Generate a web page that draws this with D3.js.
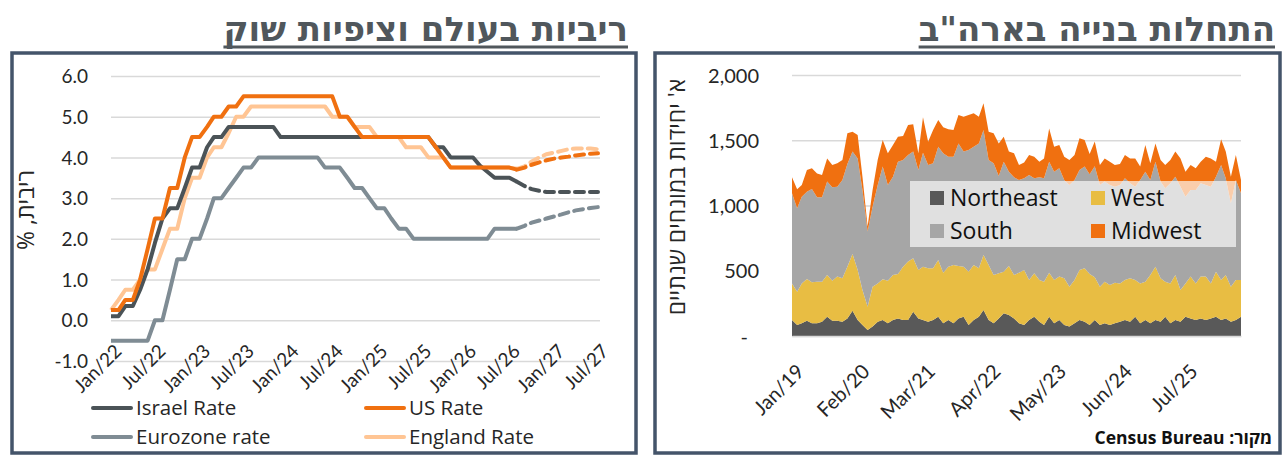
<!DOCTYPE html>
<html>
<head>
<meta charset="utf-8">
<script src="https://cdn.jsdelivr.net/npm/d3@7"></script>
<style>
  body { margin: 0; background: #fff; }
  svg { display: block; }
  text { font-family: Lato, "Open Sans", sans-serif; }
  .heb { font-family: "Open Sans", "DejaVu Sans", sans-serif; }
  .lbl { font-family: "Open Sans", Lato, sans-serif; }
</style>
</head>
<body>
<svg id="chart" width="1286" height="460"></svg>
<script>
// ---- rates chart data (monthly, Jan/22 .. Jul/27) ----
const rateStart = new Date(2022, 0, 1);
const rateTickLabels = ["Jan/22", "Jul/22", "Jan/23", "Jul/23", "Jan/24", "Jul/24",
    "Jan/25", "Jul/25", "Jan/26", "Jul/26", "Jan/27", "Jul/27"];
const forecastFrom = 55; // first month of market expectations (dashed)

const israelRate = [0.1, 0.1, 0.35, 0.35, 0.75, 1.25, 1.9, 2.5, 2.75, 2.75, 3.25, 3.75,
    3.75, 4.25, 4.5, 4.5, 4.75, 4.75, 4.75, 4.75, 4.75, 4.75, 4.75, 4.5,
    4.5, 4.5, 4.5, 4.5, 4.5, 4.5, 4.5, 4.5, 4.5, 4.5, 4.5, 4.5,
    4.5, 4.5, 4.5, 4.5, 4.5, 4.5, 4.5, 4.5, 4.25, 4.25, 4.0, 4.0,
    4.0, 4.0, 3.8, 3.65, 3.5, 3.5, 3.5, 3.4, 3.3, 3.22, 3.18, 3.15,
    3.15, 3.15, 3.15, 3.15, 3.15, 3.15, 3.15];
const usRate = [0.25, 0.25, 0.5, 0.5, 1.0, 1.75, 2.5, 2.5, 3.25, 3.25, 4.0, 4.5,
    4.5, 4.75, 5.0, 5.0, 5.25, 5.25, 5.5, 5.5, 5.5, 5.5, 5.5, 5.5,
    5.5, 5.5, 5.5, 5.5, 5.5, 5.5, 5.5, 5.0, 5.0, 4.75, 4.5, 4.5,
    4.5, 4.5, 4.5, 4.5, 4.5, 4.5, 4.5, 4.5, 4.25, 4.0, 3.75, 3.75,
    3.75, 3.75, 3.75, 3.75, 3.75, 3.75, 3.75, 3.7, 3.75, 3.82, 3.88, 3.93,
    3.97, 4.0, 4.02, 4.05, 4.07, 4.09, 4.1];
const euroRate = [-0.5, -0.5, -0.5, -0.5, -0.5, -0.5, 0, 0, 0.75, 1.5, 1.5, 2.0,
    2.0, 2.5, 3.0, 3.0, 3.25, 3.5, 3.75, 3.75, 4.0, 4.0, 4.0, 4.0,
    4.0, 4.0, 4.0, 4.0, 4.0, 3.75, 3.75, 3.75, 3.5, 3.25, 3.25, 3.0,
    2.75, 2.75, 2.5, 2.25, 2.25, 2.0, 2.0, 2.0, 2.0, 2.0, 2.0, 2.0,
    2.0, 2.0, 2.0, 2.0, 2.25, 2.25, 2.25, 2.25, 2.32, 2.4, 2.45, 2.5,
    2.55, 2.6, 2.65, 2.7, 2.73, 2.76, 2.78];
const englandRate = [0.25, 0.5, 0.75, 0.75, 1.0, 1.25, 1.25, 1.75, 2.25, 2.25, 3.0, 3.5,
    3.5, 4.0, 4.25, 4.25, 4.6, 5.0, 5.0, 5.25, 5.25, 5.25, 5.25, 5.25,
    5.25, 5.25, 5.25, 5.25, 5.25, 5.25, 5.0, 5.0, 5.0, 4.75, 4.75, 4.75,
    4.5, 4.5, 4.5, 4.5, 4.25, 4.25, 4.25, 4.0, 4.0, 4.0, 3.75, 3.75,
    3.75, 3.75, 3.75, 3.75, 3.75, 3.75, 3.75, 3.72, 3.78, 3.9, 4.0, 4.08,
    4.12, 4.16, 4.2, 4.22, 4.22, 4.22, 4.2];

// ---- housing starts data (thousands, SAAR, monthly Jan/19 .. Jun/26) ----
const startsStart = new Date(2019, 0, 1);
const startsTickLabels = ["Jan/19", "Feb/20", "Mar/21", "Apr/22", "May/23", "Jun/24", "Jul/25"];
const northeast = [123, 84, 97, 117, 97, 97, 110, 148, 117, 117, 110, 135, 194, 123, 84, 46, 72, 110,
    123, 97, 123, 135, 123, 123, 186, 135, 123, 110, 123, 148, 97, 123, 97, 135, 148, 84,
    123, 148, 199, 123, 97, 135, 174, 161, 135, 97, 84, 123, 148, 110, 84, 148, 97, 123,
    84, 72, 97, 123, 110, 84, 123, 84, 97, 84, 97, 110, 123, 110, 148, 97, 123, 97,
    123, 110, 148, 97, 123, 110, 148, 135, 123, 135, 123, 135, 148, 123, 135, 110, 123, 148];
const west = [280, 256, 306, 320, 314, 319, 306, 319, 307, 338, 332, 396, 434, 383, 268, 179, 306, 293,
    311, 327, 344, 340, 408, 447, 409, 371, 408, 409, 396, 434, 388, 408, 447, 401, 383, 409,
    421, 371, 422, 421, 370, 345, 319, 375, 332, 388, 422, 306, 332, 319, 332, 337, 332, 332,
    358, 306, 332, 383, 410, 391, 327, 294, 319, 307, 312, 293, 306, 332, 281, 306, 293, 370,
    408, 332, 268, 306, 344, 242, 255, 320, 280, 320, 332, 268, 345, 306, 332, 268, 306, 281];
const south = [690, 638, 665, 669, 715, 647, 647, 716, 715, 689, 753, 787, 785, 855, 767, 575, 613, 754,
    864, 733, 754, 861, 818, 817, 818, 766, 874, 791, 804, 869, 915, 843, 830, 940, 882, 932,
    907, 957, 958, 805, 856, 746, 843, 723, 749, 710, 702, 805, 728, 787, 792, 851, 830, 830,
    753, 779, 766, 766, 778, 765, 850, 779, 767, 766, 735, 754, 779, 728, 715, 792, 843, 728,
    805, 741, 716, 767, 754, 792, 665, 664, 716, 715, 702, 741, 728, 881, 741, 639, 766, 664];
const midwest = [123, 146, 89, 166, 159, 183, 171, 178, 171, 179, 154, 235, 153, 179, 102, 40, 128, 193,
    204, 243, 243, 191, 184, 230, 209, 128, 271, 179, 256, 204, 199, 210, 205, 217, 268, 268,
    255, 205, 204, 217, 230, 250, 191, 154, 184, 115, 122, 153, 166, 120, 153, 255, 192, 179,
    179, 192, 192, 243, 204, 155, 190, 153, 178, 179, 166, 161, 179, 191, 217, 103, 205, 128,
    140, 166, 178, 179, 192, 217, 191, 191, 166, 166, 217, 217, 115, 197, 205, 204, 192, 102];

const svg = d3.select("#chart");
const frame = "#44546a";
const gridColor = "#d9d9d9";
const axisText = "#262626";

function panel(x, y, w, h, title, titleRight) {
    svg.append("rect")
        .attr("x", x).attr("y", y).attr("width", w).attr("height", h)
        .attr("fill", "#fff").attr("stroke", frame).attr("stroke-width", 3.5);
    const t = svg.append("text")
        .attr("x", titleRight).attr("y", 41)
        .attr("direction", "rtl")
        .attr("text-anchor", "start")
        .style("font-family", "'DejaVu Sans', 'Open Sans', sans-serif")
        .style("font-size", "34px")
        .style("font-weight", "bold")
        .style("fill", "#50575c")
        .text(title);
    const bb = t.node().getBBox();
    svg.append("line")
        .attr("x1", bb.x).attr("x2", bb.x + bb.width)
        .attr("y1", 47).attr("y2", 47)
        .attr("stroke", "#50575c").attr("stroke-width", 3);
}

function ratesChart() {
    const margin = {left: 111, right: 598, top: 76, bottom: 361};
    const months = d3.range(israelRate.length).map(function (i) {
        return d3.timeMonth.offset(rateStart, i);
    });
    const x = d3.scaleTime().domain(d3.extent(months)).range([margin.left, margin.right]);
    const y = d3.scaleLinear().domain([-1, 6]).range([margin.bottom, margin.top]);

    panel(12, 53, 624, 400, "ריביות בעולם וציפיות שוק", 628);

    const g = svg.append("g");
    g.append("g")
        .attr("transform", `translate(${margin.left}, 0)`)
        .call(d3.axisLeft(y).ticks(7).tickSize(-(margin.right - margin.left + 2))
            .tickFormat(function (d) { return d.toFixed(1); }))
        .call(function (a) {
            a.select(".domain").remove();
            a.selectAll(".tick line").attr("stroke", gridColor).attr("stroke-width", 1.5);
            a.selectAll(".tick text").attr("x", -23).attr("dy", "0.35em")
                .style("font-size", "19px").style("fill", axisText);
        });

    const tickDates = rateTickLabels.map(function (d, i) {
        return d3.timeMonth.offset(rateStart, i * 6);
    });
    g.append("g")
        .attr("transform", `translate(0, ${margin.bottom})`)
        .call(d3.axisBottom(x).tickValues(tickDates).tickSize(0).tickFormat(function (d, i) {
            return rateTickLabels[i];
        }))
        .call(function (a) {
            a.select(".domain").remove();
            a.selectAll(".tick text")
                .attr("text-anchor", "end")
                .attr("transform", "translate(2, -18) rotate(-45)")
                .attr("x", 0).attr("y", 0).attr("dy", "0.7em")
                .style("font-size", "19px").style("fill", axisText);
        });

    const series = [
        {name: "Eurozone rate", values: euroRate, color: "#7f8c94"},
        {name: "England Rate", values: englandRate, color: "#ffc594"},
        {name: "Israel Rate", values: israelRate, color: "#4b5357"},
        {name: "US Rate", values: usRate, color: "#f07010"}
    ];
    const line = d3.line()
        .x(function (d) { return x(months[d.i]); })
        .y(function (d) { return y(d.v); });

    series.forEach(function (s) {
        const pts = s.values.map(function (v, i) { return {i: i, v: v}; });
        g.append("path")
            .datum(pts.slice(0, forecastFrom + 1))
            .attr("d", line)
            .attr("fill", "none").attr("stroke", s.color).attr("stroke-width", 4)
            .attr("stroke-linejoin", "round");
        g.append("path")
            .datum(pts.slice(forecastFrom))
            .attr("d", line)
            .attr("fill", "none").attr("stroke", s.color).attr("stroke-width", 4)
            .attr("stroke-dasharray", "9,6").attr("stroke-linecap", "round");
    });

    // legend
    const legend = [
        {name: "Israel Rate", color: "#4b5357", x: 93, y: 408},
        {name: "US Rate", color: "#f07010", x: 366, y: 408},
        {name: "Eurozone rate", color: "#7f8c94", x: 93, y: 437},
        {name: "England Rate", color: "#ffc594", x: 366, y: 437}
    ];
    legend.forEach(function (d) {
        svg.append("line")
            .attr("x1", d.x).attr("x2", d.x + 38).attr("y1", d.y).attr("y2", d.y)
            .attr("stroke", d.color).attr("stroke-width", 4).attr("stroke-linecap", "round");
        svg.append("text")
            .attr("class", "lbl")
            .attr("x", d.x + 43).attr("y", d.y).attr("dy", "0.36em")
            .style("font-size", "20.5px").style("fill", axisText)
            .text(d.name);
    });

    svg.append("text")
        .attr("class", "heb")
        .attr("transform", "translate(34, 210) rotate(-90)")
        .attr("direction", "rtl")
        .attr("text-anchor", "middle")
        .style("font-size", "23px").style("fill", axisText)
        .text("ריבית, %");
}

function startsChart() {
    const margin = {left: 792, right: 1241, top: 75, bottom: 336};
    const keys = ["Northeast", "West", "South", "Midwest"];
    const colors = {Northeast: "#595959", West: "#e8bd43", South: "#a6a6a6", Midwest: "#f07010"};
    const rows = northeast.map(function (d, i) {
        return {date: d3.timeMonth.offset(startsStart, i), Northeast: d, West: west[i], South: south[i], Midwest: midwest[i]};
    });
    const x = d3.scaleTime().domain(d3.extent(rows, function (d) { return d.date; })).range([margin.left, margin.right]);
    const y = d3.scaleLinear().domain([0, 2000]).range([margin.bottom, margin.top]);

    panel(655, 53, 625, 400, "התחלות בנייה בארה\"ב", 1275);

    const g = svg.append("g");
    g.append("g")
        .attr("transform", `translate(${margin.left}, 0)`)
        .call(d3.axisLeft(y).tickValues([0, 500, 1000, 1500, 2000]).tickSize(-(margin.right - margin.left))
            .tickFormat(function (d) { return d === 0 ? "-" : d3.format(",")(d); }))
        .call(function (a) {
            a.select(".domain").remove();
            a.selectAll(".tick line").attr("stroke", gridColor).attr("stroke-width", 1.5);
            a.selectAll(".tick text").attr("x", -33).attr("dy", "0.35em")
                .style("font-size", "20px").style("fill", axisText);
            a.selectAll(".tick text").filter(function (d) { return d === 0; }).attr("x", -44);
        });

    const stack = d3.stack().keys(keys);
    const area = d3.area()
        .x(function (d) { return x(d.data.date); })
        .y0(function (d) { return y(d[0]); })
        .y1(function (d) { return y(d[1]); });
    g.selectAll(".layer")
        .data(stack(rows))
        .enter()
        .append("path")
        .attr("class", "layer")
        .attr("d", area)
        .attr("fill", function (d) { return colors[d.key]; });

    const tickDates = startsTickLabels.map(function (d, i) {
        return d3.timeMonth.offset(startsStart, i * 13);
    });
    g.append("g")
        .attr("transform", `translate(0, ${margin.bottom})`)
        .call(d3.axisBottom(x).tickValues(tickDates).tickSize(0).tickFormat(function (d, i) {
            return startsTickLabels[i];
        }))
        .call(function (a) {
            a.select(".domain").attr("stroke", gridColor).attr("stroke-width", 1.5);
            a.selectAll(".tick text")
                .attr("text-anchor", "end")
                .attr("transform", "translate(3, 27) rotate(-45)")
                .attr("x", 0).attr("y", 0).attr("dy", "0.7em")
                .style("font-size", "20px").style("fill", axisText);
        });

    // legend box over the plot
    svg.append("rect")
        .attr("x", 910).attr("y", 181).attr("width", 326).attr("height", 66)
        .attr("fill", "#fff").attr("fill-opacity", 0.65);
    const legend = [
        {key: "Northeast", x: 930, y: 198},
        {key: "West", x: 1091, y: 198},
        {key: "South", x: 930, y: 231},
        {key: "Midwest", x: 1091, y: 231}
    ];
    legend.forEach(function (d) {
        svg.append("rect")
            .attr("x", d.x).attr("y", d.y - 7).attr("width", 14).attr("height", 14)
            .attr("fill", colors[d.key]);
        svg.append("text")
            .attr("class", "lbl")
            .attr("x", d.x + 20).attr("y", d.y).attr("dy", "0.36em")
            .style("font-size", "23px").style("fill", "#111")
            .text(d.key);
    });

    svg.append("text")
        .attr("class", "heb")
        .attr("transform", "translate(685, 197) rotate(-90)")
        .attr("direction", "rtl")
        .attr("text-anchor", "middle")
        .style("font-size", "23px").style("fill", axisText)
        .text("א' יחידות במונחים שנתיים");

    svg.append("text")
        .attr("class", "heb")
        .attr("x", 1272).attr("y", 444)
        .attr("direction", "rtl")
        .attr("text-anchor", "start")
        .style("font-size", "17.5px").style("font-weight", "bold").style("fill", "#111")
        .text("מקור: Census Bureau");
}

ratesChart();
startsChart();
</script>
</body>
</html>
